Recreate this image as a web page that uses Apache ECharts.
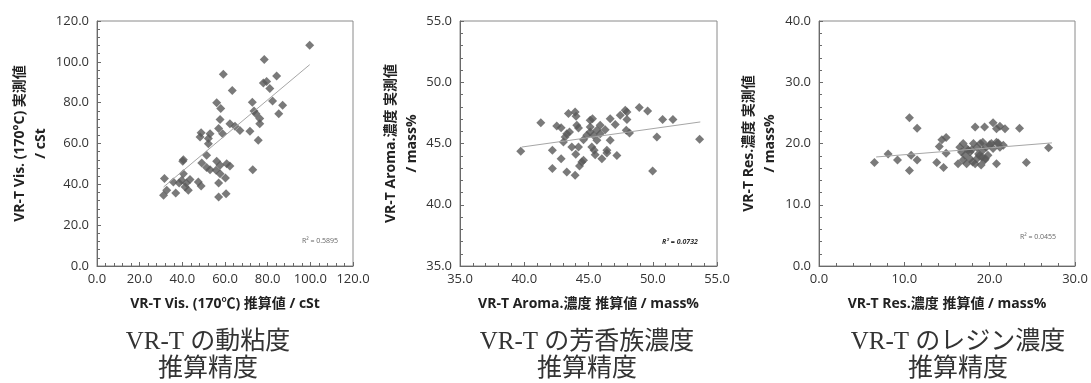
<!DOCTYPE html>
<html><head><meta charset="utf-8">
<script src="https://cdn.jsdelivr.net/npm/echarts@6/dist/echarts.min.js"></script>
<style>html,body{margin:0;padding:0;background:#fff}#c{width:1091px;height:383px}</style>
</head><body><div id="c"></div>
<script>
// Panel 1: VR-T viscosity (estimated vs measured)
const visEst  = [99.7,78.4,59.2,63.4,84.2,78.0,79.5,81.0,87.0,82.3,85.2,72.8,73.6,74.5,76.3,76.3,75.6,73.0,71.7,62.3,64.7,67.0,56.1,58.0,57.7,57.0,58.9,48.8,48.3,52.2,53.0,52.2,51.4,56.1,57.7,49.1,51.4,53.0,55.8,57.7,60.8,62.3,57.0,60.2,57.0,60.5,40.5,40.2,40.5,39.7,41.9,43.6,35.8,38.5,31.6,36.9,32.7,31.2,42.8,47.5,48.8,41.3];
const visMeas = [108.1,101.2,93.9,86.0,93.1,89.6,90.4,86.9,78.7,80.8,74.6,80.2,75.9,74.6,72.2,69.7,61.6,47.2,66.0,69.7,68.4,66.4,80.0,77.1,71.7,67.3,64.8,65.3,63.2,62.4,64.8,59.9,54.2,51.3,49.3,50.4,48.2,47.2,46.9,45.2,50.1,49.0,40.7,43.1,33.8,35.4,52.1,51.3,45.2,42.0,40.7,42.4,41.1,40.7,42.8,35.8,37.1,34.6,37.1,41.1,39.2,38.7];
const visTrendX = [31.2, 99.7];
const visTrendY = [38.7, 98.6];

// Panel 2: VR-T aromatic concentration
const aromaEst  = [39.73,41.29,42.19,42.19,42.53,42.87,42.87,43.31,43.96,43.44,43.96,44.03,43.18,43.31,43.52,43.05,43.70,44.09,44.22,44.01,44.22,44.30,44.48,44.61,44.61,44.87,45.13,45.31,45.13,45.13,45.39,45.26,45.44,45.52,45.91,45.65,45.91,45.65,46.04,46.30,46.43,46.69,46.69,46.43,47.08,47.21,47.47,47.86,47.99,47.99,47.94,48.19,48.95,49.60,49.99,50.32,50.77,51.57,53.65];
const aromaMeas = [44.36,46.70,42.95,44.44,46.43,46.29,43.76,42.67,42.40,47.44,47.57,47.22,45.53,45.80,45.94,45.12,44.71,46.48,46.27,44.12,44.71,43.16,43.49,43.63,45.31,45.67,46.89,47.03,46.35,45.94,45.67,44.71,44.44,44.09,46.48,46.08,45.80,45.26,43.76,46.13,44.44,47.03,45.26,44.22,46.56,44.03,47.30,47.71,47.57,46.95,46.08,45.86,47.93,47.65,42.76,45.53,46.95,46.95,45.34];
const aromaTrendX = [39.8, 53.7];
const aromaTrendY = [44.71, 46.76];

// Panel 3: VR-T resin concentration
const resEst  = [6.5,8.1,9.2,10.6,11.5,10.8,10.6,11.5,13.8,14.6,14.1,14.4,14.9,14.9,16.3,16.9,17.3,18.3,19.4,20.8,18.3,19.4,20.4,20.8,21.2,21.8,23.5,24.3,26.9,16.5,16.9,17.3,17.7,18.1,18.5,18.7,18.9,19.1,19.2,19.6,19.8,20.2,20.4,20.8,21.2,21.6,17.1,17.7,18.5,16.7,19.2,17.5,18.0,19.0,20.0,21.0,18.8,17.9,19.5];
const resMeas = [16.9,18.3,17.3,24.2,22.5,18.1,15.6,17.3,16.9,16.1,19.5,20.6,21.0,18.4,16.7,17.3,16.7,16.7,17.3,16.7,22.7,22.7,23.4,22.4,22.8,22.4,22.5,16.9,19.3,19.4,20.0,19.2,18.6,20.0,19.4,18.3,20.0,17.8,18.9,19.4,18.1,20.0,19.2,20.2,19.4,19.7,18.1,17.5,17.5,18.6,20.2,18.9,17.0,16.5,19.8,20.1,18.0,19.0,17.5];
const resTrendX = [6.7, 27.3];
const resTrendY = [17.8, 20.1];

// Axis ranges and labels
const axisMin = [0, 35, 0];
const axisMax = [120, 55, 40];
const xAxisMaxArr = [120, 55, 30];
const axisStep = [20, 5, 10];
const xNames = ['VR-T Vis. (170\u2103) 推算値 / cSt', 'VR-T Aroma.濃度 推算値 / mass%', 'VR-T Res.濃度 推算値 / mass%'];
const yNames = ['VR-T Vis. (170°C) 実測値\n/ cSt', 'VR-T Aroma.濃度 実測値\n/ mass%', 'VR-T Res.濃度 実測値\n/ mass%'];
const r2Texts = ['R² = 0.5895', 'R² = 0.0732', 'R² = 0.0455'];
const captions = [['VR-T の動粘度', '推算精度'], ['VR-T の芳香族濃度', '推算精度'], ['VR-T のレジン濃度', '推算精度']];

const zip = (a, b) => a.map((v, i) => [v, b[i]]);
const pts = [zip(visEst, visMeas), zip(aromaEst, aromaMeas), zip(resEst, resMeas)];
const trends = [zip(visTrendX, visTrendY), zip(aromaTrendX, aromaTrendY), zip(resTrendX, resTrendY)];

const FONT = "'Open Sans','Noto Sans CJK JP',sans-serif";
const grids = [
  {left: 97, top: 21, width: 256, height: 245},
  {left: 460, top: 21, width: 257, height: 245},
  {left: 819, top: 21, width: 256, height: 245}
];
const nameGapsY = [34, 36, 38];

const axisCommon = (min, max, step) => ({
  type: 'value', min: min, max: max, interval: step,
  axisLine: {show: true, lineStyle: {color: '#6a6a6a', width: 1}},
  axisTick: {show: true, inside: true, length: 4, lineStyle: {color: '#6a6a6a'}},
  minorTick: {show: true, splitNumber: 5, length: 3, lineStyle: {color: '#6a6a6a'}},
  splitLine: {show: false},
  axisLabel: {color: '#333', fontSize: 13, fontFamily: FONT, formatter: v => v.toFixed(1)},
  nameTextStyle: {color: '#222', fontSize: 14, fontWeight: 'bold', fontFamily: FONT, lineHeight: 21},
  nameLocation: 'middle'
});

const xAxis = [], yAxis = [], series = [], graphic = [];
for (let i = 0; i < 3; i++) {
  const xa = axisCommon(axisMin[i], xAxisMaxArr[i], axisStep[i]);
  xa.gridIndex = i; xa.name = xNames[i]; xa.nameGap = 28;
  xa.axisLabel.margin = 7;
  xAxis.push(xa);
  const ya = axisCommon(axisMin[i], axisMax[i], axisStep[i]);
  ya.gridIndex = i; ya.name = yNames[i]; ya.nameGap = nameGapsY[i]; ya.nameRotate = 90;
  ya.axisLabel.margin = 8;
  yAxis.push(ya);
  series.push({
    type: 'scatter', xAxisIndex: i, yAxisIndex: i, data: pts[i],
    symbol: 'diamond', symbolSize: 9, itemStyle: {color: '#595959'}, silent: true
  });
  series.push({
    type: 'line', xAxisIndex: i, yAxisIndex: i, data: trends[i],
    symbol: 'none', lineStyle: {color: '#a6a6a6', width: 1}, silent: true
  });
}
const gridOpts = grids.map(g => Object.assign({show: true, borderColor: '#8a8a8a', borderWidth: 1, backgroundColor: 'transparent'}, g));

const r2Pos = [[320, 241], [680, 242], [1038, 237]];
const r2Style = [
  {fontSize: 7, fill: '#666', fontStyle: 'normal', fontWeight: 'normal'},
  {fontSize: 7, fill: '#333', fontStyle: 'italic', fontWeight: 'bold'},
  {fontSize: 7, fill: '#666', fontStyle: 'normal', fontWeight: 'normal'}
];
for (let i = 0; i < 3; i++) {
  graphic.push({type: 'text', x: r2Pos[i][0], y: r2Pos[i][1],
    style: Object.assign({text: r2Texts[i], fontFamily: FONT, textAlign: 'center', textVerticalAlign: 'middle'}, r2Style[i])});
}
const capX = [208, 587, 958];
const capY = [342, 369];
for (let i = 0; i < 3; i++) {
  for (let j = 0; j < 2; j++) {
    graphic.push({type: 'text', x: capX[i], y: capY[j],
      style: {text: captions[i][j], fontFamily: "'Liberation Serif','Noto Sans CJK JP',serif", fontSize: 25,
        fill: '#333', textAlign: 'center', textVerticalAlign: 'middle'}});
  }
}

const chart = echarts.init(document.getElementById('c'), null, {renderer: 'canvas'});
chart.setOption({
  animation: false,
  backgroundColor: '#fff',
  grid: gridOpts,
  xAxis: xAxis,
  yAxis: yAxis,
  series: series,
  graphic: graphic
});
</script></body></html>
